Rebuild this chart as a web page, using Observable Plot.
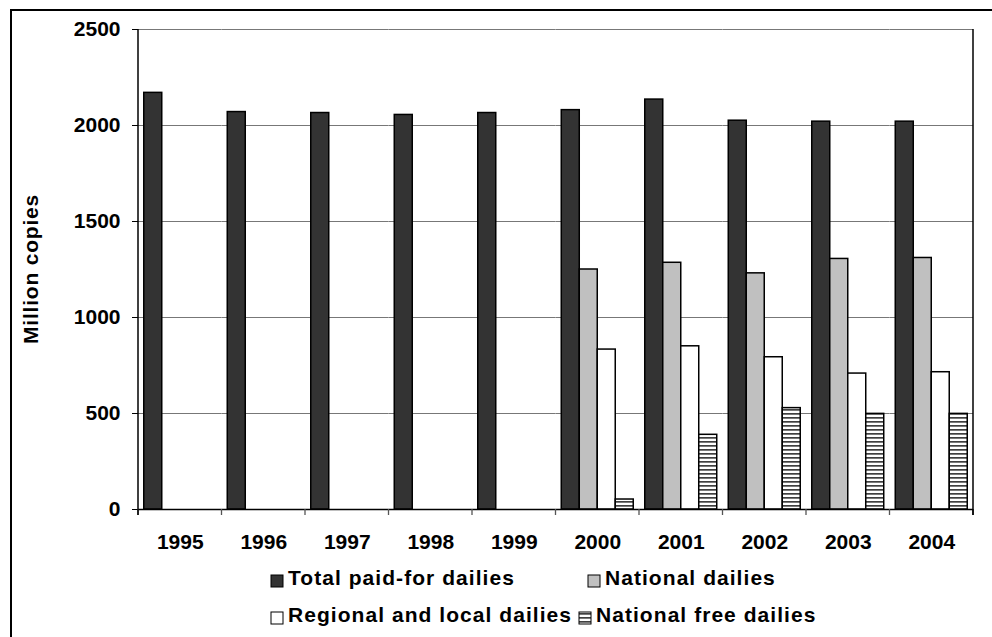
<!DOCTYPE html>
<html><head><meta charset="utf-8">
<script src="https://cdn.jsdelivr.net/npm/d3@7"></script>
<script src="https://cdn.jsdelivr.net/npm/@observablehq/plot@0.6"></script>
<style>
html,body{margin:0;padding:0;background:#fff;}
body{width:992px;height:637px;overflow:hidden;position:relative;font-family:"Liberation Sans",Arial,sans-serif;}
#chart{position:absolute;left:0;top:0;}
#chart svg{display:block;}
#frame{position:absolute;left:10px;top:9px;width:1200px;height:1000px;border-left:2px solid #000;border-top:2px solid #000;pointer-events:none;}
</style></head><body>
<div id="chart"></div><div id="frame"></div>
<script>
const years = ["1995","1996","1997","1998","1999","2000","2001","2002","2003","2004"];
const seriesNames = ["Total paid-for dailies","National dailies","Regional and local dailies","National free dailies"];
const totalPaid = [2170,2070,2065,2055,2065,2080,2135,2025,2020,2020];
const nationalDailies = [null,null,null,null,null,1250,1285,1230,1305,1310];
const regionalLocal = [null,null,null,null,null,833,850,793,708,715];
const nationalFree = [null,null,null,null,null,52,389,528,498,498];
const yTicks = [0,500,1000,1500,2000,2500];
const seriesColors = ["#333333","#c0c0c0","#ffffff","url(#hstripes)"];
const yTitle = "Million copies";

const seriesValues = [totalPaid, nationalDailies, regionalLocal, nationalFree];
const rows = [];
seriesNames.forEach((s, i) => years.forEach((yr, j) => {
  const v = seriesValues[i][j];
  if (v != null) rows.push({year: yr, series: s, value: v});
}));

const FONT = '"Liberation Sans", Arial, sans-serif';
const chart = Plot.plot({
  width: 992, height: 560,
  marginLeft: 138, marginRight: 19, marginTop: 29, marginBottom: 51,
  style: {fontFamily: FONT, fontSize: "21px", fontWeight: "bold", color: "#000", background: "transparent", overflow: "visible"},
  facet: {data: rows, x: "year", marginLeft: 138, marginRight: 19, marginTop: 29, marginBottom: 51},
  fx: {domain: years, padding: 0, round: false, label: null, axis: "bottom", tickSize: 0, tickPadding: 25},
  x: {domain: seriesNames, axis: null, paddingInner: 0, paddingOuter: 0.32, round: false},
  y: {domain: [0, 2500], ticks: yTicks, tickSize: 6, tickPadding: 12, label: null, tickFormat: "d"},
  color: {domain: seriesNames, range: seriesColors},
  marks: [
    Plot.ruleY(yTicks.filter(d => d > 0), {stroke: "#777", strokeWidth: 1}),
    Plot.barY(rows, {x: "series", y: "value", fill: "series", stroke: "#000", strokeWidth: 1.5}),
    Plot.ruleY([0], {stroke: "#000", strokeWidth: 1.5})
  ]
});

const svg = d3.select(chart);
const defs = svg.insert("defs", ":first-child");
const pat = defs.append("pattern").attr("id", "hstripes").attr("patternUnits", "userSpaceOnUse").attr("width", 8).attr("height", 4);
pat.append("rect").attr("width", 8).attr("height", 4).attr("fill", "#fff");
pat.append("rect").attr("y", 1).attr("width", 8).attr("height", 1.7).attr("fill", "#404040");

const fxS = chart.scale("fx");
const yS = chart.scale("y");
const [x0, x1] = fxS.range;
const yBottom = Math.max(...yS.range), yTop = Math.min(...yS.range);
const step = (x1 - x0) / years.length;
const deco = svg.append("g");
d3.range(years.length + 1).forEach(i => {
  const xx = x0 + i * step;
  deco.append("line").attr("x1", xx).attr("x2", xx).attr("y1", yBottom).attr("y2", yBottom + 6)
    .attr("stroke", i === years.length ? "#000" : "#555").attr("stroke-width", 1.3);
});
deco.append("line").attr("x1", x0).attr("x2", x0).attr("y1", yTop).attr("y2", yBottom + 6).attr("stroke", "#000").attr("stroke-width", 1.5);
deco.append("line").attr("x1", x1).attr("x2", x1).attr("y1", yTop).attr("y2", yBottom + 6).attr("stroke", "#000").attr("stroke-width", 1.5);
svg.append("text").attr("transform", `translate(38,${(yTop + yBottom) / 2}) rotate(-90)`)
  .attr("text-anchor", "middle").attr("font-family", FONT).attr("font-size", 21).attr("font-weight", "bold")
  .attr("letter-spacing", "0.8px").attr("fill", "#000").text(yTitle);

document.getElementById("chart").appendChild(chart);

const legendLayout = [
  {x: 271, y: 15}, {x: 588, y: 15},
  {x: 271, y: 52}, {x: 579, y: 52}
];
const leg = d3.create("svg").attr("width", 992).attr("height", 77).style("display", "block");
leg.append("defs").html('<pattern id="hstripesL" patternUnits="userSpaceOnUse" width="8" height="4"><rect width="8" height="4" fill="#fff"/><rect y="1" width="8" height="1.7" fill="#404040"/></pattern>');
seriesNames.forEach((s, i) => {
  const p = legendLayout[i];
  const fill = seriesColors[i].startsWith("url") ? "url(#hstripesL)" : seriesColors[i];
  leg.append("rect").attr("x", p.x).attr("y", p.y).attr("width", 12).attr("height", 12)
    .attr("fill", fill).attr("stroke", "#000").attr("stroke-width", 1);
  leg.append("text").attr("x", p.x + 17).attr("y", p.y + 9.5)
    .attr("font-family", FONT).attr("font-size", 21).attr("font-weight", "bold")
    .attr("letter-spacing", "1.05px").attr("fill", "#000").text(s);
});
document.getElementById("chart").appendChild(leg.node());
</script>
</body></html>
